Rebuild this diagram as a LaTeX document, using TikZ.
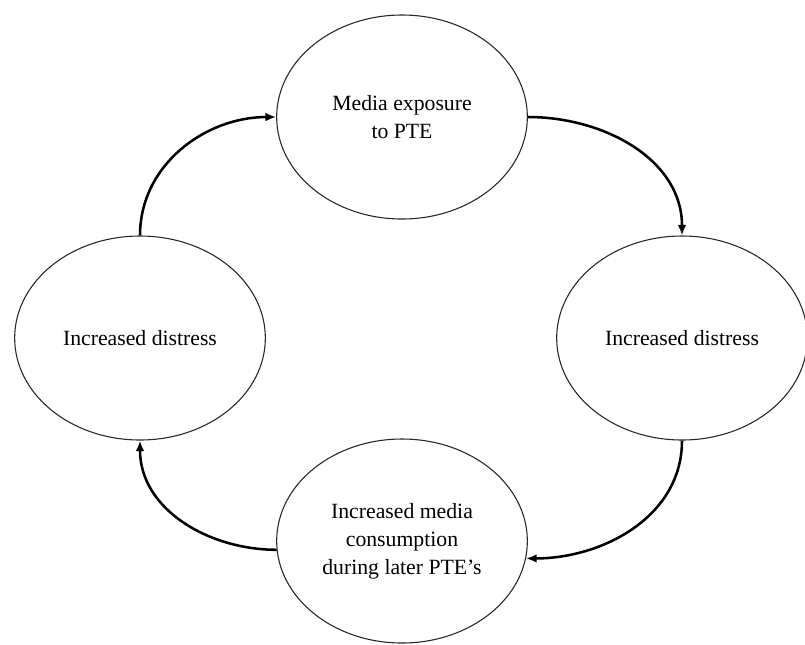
\documentclass[tikz,border=0pt]{standalone}
\usepackage{fontspec}
\setmainfont{Liberation Serif}
\usetikzlibrary{arrows.meta,shapes.geometric}

\begin{document}
\begin{tikzpicture}[x=.75pt,y=-.75pt,
 stage/.style={ellipse,draw=black!85,line width=.8pt,fill=white,
               minimum width=188pt,minimum height=153pt,inner sep=1pt,
               align=center,font=\fontsize{16.3}{21}\selectfont},
 flow/.style={line width=1.9pt,-{Latex[length=8pt,width=6.5pt]}}]
 \useasboundingbox (0,0) rectangle (805,644);
 \node[stage] (expo) at (402,117) {Media exposure\\to PTE};
 \node[stage] (distR) at (682,338) {Increased distress};
 \node[stage] (distL) at (140,338) {Increased distress};
 \node[stage] (media) at (402,541) {Increased media\\consumption\\during later PTE's};
 \draw[flow] (expo.east) to[out=0,in=90] (distR.north);
 \draw[flow] (distR.south) to[out=-90,in=0] (media.-8);
 \draw[flow] (media.184) to[out=180,in=-90] (distL.south);
 \draw[flow] (distL.north) to[out=90,in=180] (expo.west);
\end{tikzpicture}
\end{document}
